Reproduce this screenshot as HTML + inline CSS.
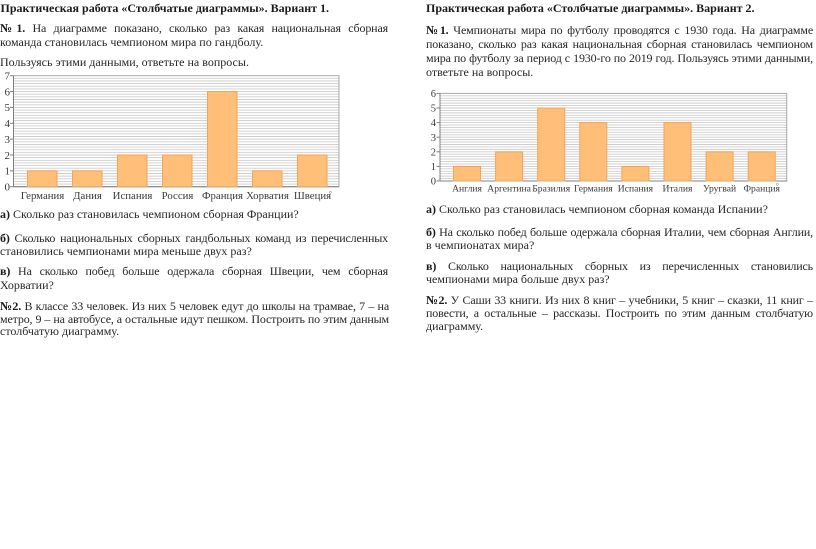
<!DOCTYPE html>
<html><head><meta charset="utf-8"><style>
html,body{margin:0;padding:0;background:#fff;}
body{width:816px;height:549px;overflow:hidden;position:relative;}
svg{position:absolute;left:0;top:0;}
.l{position:absolute;font-family:"Liberation Serif","DejaVu Serif",serif;font-size:12px;line-height:14px;color:#262626;white-space:nowrap;}
.j{text-align:justify;text-align-last:justify;letter-spacing:-0.15px;}
.b{font-weight:bold;color:#1a1a1a;}
.ax{font-family:"Liberation Serif","DejaVu Serif",serif;fill:#3a3a3a;}
</style></head><body>
<svg width="816" height="549" viewBox="0 0 816 549" xmlns="http://www.w3.org/2000/svg">
<g stroke="#cdcdcd" stroke-width="0.9">
<line x1="13.5" x2="339" y1="184.06" y2="184.06"/><line x1="13.5" x2="339" y1="181.41" y2="181.41"/><line x1="13.5" x2="339" y1="178.77" y2="178.77"/><line x1="13.5" x2="339" y1="176.13" y2="176.13"/><line x1="13.5" x2="339" y1="173.49" y2="173.49"/><line x1="13.5" x2="339" y1="170.84" y2="170.84"/>
<line x1="13.5" x2="339" y1="168.20" y2="168.20"/><line x1="13.5" x2="339" y1="165.56" y2="165.56"/><line x1="13.5" x2="339" y1="162.91" y2="162.91"/><line x1="13.5" x2="339" y1="160.27" y2="160.27"/><line x1="13.5" x2="339" y1="157.63" y2="157.63"/><line x1="13.5" x2="339" y1="154.99" y2="154.99"/>
<line x1="13.5" x2="339" y1="152.34" y2="152.34"/><line x1="13.5" x2="339" y1="149.70" y2="149.70"/><line x1="13.5" x2="339" y1="147.06" y2="147.06"/><line x1="13.5" x2="339" y1="144.41" y2="144.41"/><line x1="13.5" x2="339" y1="141.77" y2="141.77"/><line x1="13.5" x2="339" y1="139.13" y2="139.13"/>
<line x1="13.5" x2="339" y1="136.49" y2="136.49"/><line x1="13.5" x2="339" y1="133.84" y2="133.84"/><line x1="13.5" x2="339" y1="131.20" y2="131.20"/><line x1="13.5" x2="339" y1="128.56" y2="128.56"/><line x1="13.5" x2="339" y1="125.91" y2="125.91"/><line x1="13.5" x2="339" y1="123.27" y2="123.27"/>
<line x1="13.5" x2="339" y1="120.63" y2="120.63"/><line x1="13.5" x2="339" y1="117.99" y2="117.99"/><line x1="13.5" x2="339" y1="115.34" y2="115.34"/><line x1="13.5" x2="339" y1="112.70" y2="112.70"/><line x1="13.5" x2="339" y1="110.06" y2="110.06"/><line x1="13.5" x2="339" y1="107.41" y2="107.41"/>
<line x1="13.5" x2="339" y1="104.77" y2="104.77"/><line x1="13.5" x2="339" y1="102.13" y2="102.13"/><line x1="13.5" x2="339" y1="99.49" y2="99.49"/><line x1="13.5" x2="339" y1="96.84" y2="96.84"/><line x1="13.5" x2="339" y1="94.20" y2="94.20"/><line x1="13.5" x2="339" y1="91.56" y2="91.56"/>
<line x1="13.5" x2="339" y1="88.91" y2="88.91"/><line x1="13.5" x2="339" y1="86.27" y2="86.27"/><line x1="13.5" x2="339" y1="83.63" y2="83.63"/><line x1="13.5" x2="339" y1="80.99" y2="80.99"/><line x1="13.5" x2="339" y1="78.34" y2="78.34"/>
</g>
<g stroke="#cdcdcd" stroke-width="0.9">
<line x1="440" x2="786.7" y1="178.57" y2="178.57"/><line x1="440" x2="786.7" y1="176.13" y2="176.13"/><line x1="440" x2="786.7" y1="173.70" y2="173.70"/><line x1="440" x2="786.7" y1="171.27" y2="171.27"/><line x1="440" x2="786.7" y1="168.83" y2="168.83"/><line x1="440" x2="786.7" y1="166.40" y2="166.40"/>
<line x1="440" x2="786.7" y1="163.97" y2="163.97"/><line x1="440" x2="786.7" y1="161.53" y2="161.53"/><line x1="440" x2="786.7" y1="159.10" y2="159.10"/><line x1="440" x2="786.7" y1="156.67" y2="156.67"/><line x1="440" x2="786.7" y1="154.23" y2="154.23"/><line x1="440" x2="786.7" y1="151.80" y2="151.80"/>
<line x1="440" x2="786.7" y1="149.37" y2="149.37"/><line x1="440" x2="786.7" y1="146.93" y2="146.93"/><line x1="440" x2="786.7" y1="144.50" y2="144.50"/><line x1="440" x2="786.7" y1="142.07" y2="142.07"/><line x1="440" x2="786.7" y1="139.63" y2="139.63"/><line x1="440" x2="786.7" y1="137.20" y2="137.20"/>
<line x1="440" x2="786.7" y1="134.77" y2="134.77"/><line x1="440" x2="786.7" y1="132.33" y2="132.33"/><line x1="440" x2="786.7" y1="129.90" y2="129.90"/><line x1="440" x2="786.7" y1="127.47" y2="127.47"/><line x1="440" x2="786.7" y1="125.03" y2="125.03"/><line x1="440" x2="786.7" y1="122.60" y2="122.60"/>
<line x1="440" x2="786.7" y1="120.17" y2="120.17"/><line x1="440" x2="786.7" y1="117.73" y2="117.73"/><line x1="440" x2="786.7" y1="115.30" y2="115.30"/><line x1="440" x2="786.7" y1="112.87" y2="112.87"/><line x1="440" x2="786.7" y1="110.43" y2="110.43"/><line x1="440" x2="786.7" y1="108.00" y2="108.00"/>
<line x1="440" x2="786.7" y1="105.57" y2="105.57"/><line x1="440" x2="786.7" y1="103.13" y2="103.13"/><line x1="440" x2="786.7" y1="100.70" y2="100.70"/><line x1="440" x2="786.7" y1="98.27" y2="98.27"/><line x1="440" x2="786.7" y1="95.83" y2="95.83"/>
</g>

<rect x="13.5" y="75.7" width="325.5" height="111" fill="none" stroke="#a8a8a8" stroke-width="1"/>
<line x1="13.5" y1="75.7" x2="13.5" y2="186.7" stroke="#808080" stroke-width="1"/>
<line x1="13.5" y1="186.7" x2="339" y2="186.7" stroke="#808080" stroke-width="1"/>
<g stroke="#808080" stroke-width="1">
<line x1="10" x2="13.5" y1="75.7" y2="75.7"/><line x1="10" x2="13.5" y1="91.56" y2="91.56"/><line x1="10" x2="13.5" y1="107.41" y2="107.41"/><line x1="10" x2="13.5" y1="123.27" y2="123.27"/><line x1="10" x2="13.5" y1="139.13" y2="139.13"/><line x1="10" x2="13.5" y1="154.99" y2="154.99"/><line x1="10" x2="13.5" y1="170.84" y2="170.84"/><line x1="10" x2="13.5" y1="186.7" y2="186.7"/>
</g>
<g class="ax" font-size="11" text-anchor="end">
<text x="10" y="79.5">7</text><text x="10" y="95.4">6</text><text x="10" y="111.2">5</text><text x="10" y="127.1">4</text><text x="10" y="143">3</text><text x="10" y="158.8">2</text><text x="10" y="174.7">1</text><text x="10" y="190.5">0</text>
</g>
<g fill="#ffbf78" stroke="#f2a458" stroke-width="1">
<rect x="27.5" y="170.84" width="29.5" height="15.86"/>
<rect x="72.5" y="170.84" width="29.5" height="15.86"/>
<rect x="117.5" y="154.99" width="29.5" height="31.71"/>
<rect x="162.5" y="154.99" width="29.5" height="31.71"/>
<rect x="207.5" y="91.56" width="29.5" height="95.14"/>
<rect x="252.5" y="170.84" width="29.5" height="15.86"/>
<rect x="297.5" y="154.99" width="29.5" height="31.71"/>
</g>
<g class="ax" font-size="10.8" text-anchor="middle" fill="#333">
<text x="42.5" y="199">Германия</text><text x="87.5" y="199">Дания</text><text x="132.5" y="199">Испания</text><text x="177.5" y="199">Россия</text><text x="222.5" y="199">Франция</text><text x="267.5" y="199">Хорватия</text><text x="312.5" y="199">Швеция</text>
</g>
<text class="ax" x="329" y="196" font-size="7" fill="#bbb">°</text>

<rect x="440" y="93.4" width="346.7" height="87.6" fill="none" stroke="#a8a8a8" stroke-width="1"/>
<line x1="440" y1="93.4" x2="440" y2="181" stroke="#808080" stroke-width="1"/>
<line x1="440" y1="181" x2="786.7" y2="181" stroke="#808080" stroke-width="1"/>
<g stroke="#808080" stroke-width="1">
<line x1="436.5" x2="440" y1="93.4" y2="93.4"/><line x1="436.5" x2="440" y1="108" y2="108"/><line x1="436.5" x2="440" y1="122.6" y2="122.6"/><line x1="436.5" x2="440" y1="137.2" y2="137.2"/><line x1="436.5" x2="440" y1="151.8" y2="151.8"/><line x1="436.5" x2="440" y1="166.4" y2="166.4"/><line x1="436.5" x2="440" y1="181" y2="181"/>
</g>
<g class="ax" font-size="10.5" text-anchor="end">
<text x="436" y="97">6</text><text x="436" y="111.6">5</text><text x="436" y="126.2">4</text><text x="436" y="140.8">3</text><text x="436" y="155.4">2</text><text x="436" y="170">1</text><text x="436" y="184.6">0</text>
</g>
<g fill="#ffbf78" stroke="#f2a458" stroke-width="1">
<rect x="453.5" y="166.4" width="27" height="14.6"/>
<rect x="495.6" y="151.8" width="27" height="29.2"/>
<rect x="537.7" y="108" width="27" height="73"/>
<rect x="579.8" y="122.6" width="27" height="58.4"/>
<rect x="621.9" y="166.4" width="27" height="14.6"/>
<rect x="664" y="122.6" width="27" height="58.4"/>
<rect x="706.1" y="151.8" width="27" height="29.2"/>
<rect x="748.2" y="151.8" width="27" height="29.2"/>
</g>
<g class="ax" font-size="9.6" text-anchor="middle" fill="#333">
<text x="467" y="191.5">Англия</text><text x="509.1" y="191.5">Аргентина</text><text x="551.2" y="191.5">Бразилия</text><text x="593.3" y="191.5">Германия</text><text x="635.4" y="191.5">Испания</text><text x="677.5" y="191.5">Италия</text><text x="719.6" y="191.5">Уругвай</text><text x="761.7" y="191.5">Франция</text>
</g>
<text class="ax" x="776" y="188" font-size="7" fill="#bbb">°</text>
</svg>

<!-- LEFT TEXT -->
<div class="l b" style="left:0.5px;top:1.4px;">Практическая работа «Столбчатые диаграммы». Вариант 1.</div>
<div class="l j" style="left:0;top:21.4px;width:388px;"><span class="b">№1.</span> На диаграмме показано, сколько раз какая национальная сборная</div>
<div class="l" style="left:0;top:35.4px;">команда становилась чемпионом мира по гандболу.</div>
<div class="l" style="left:0;top:55.4px;">Пользуясь этими данными, ответьте на вопросы.</div>
<div class="l" style="left:0;top:207.4px;"><span class="b">а)</span> Сколько раз становилась чемпионом сборная Франции?</div>
<div class="l j" style="left:0;top:231.4px;width:388px;"><span class="b">б)</span> Сколько национальных сборных гандбольных команд из перечисленных</div>
<div class="l" style="left:0;top:244.4px;">становились чемпионами мира меньше двух раз?</div>
<div class="l j" style="left:0;top:264.4px;width:388px;"><span class="b">в)</span> На сколько побед больше одержала сборная Швеции, чем сборная</div>
<div class="l" style="left:0;top:278.4px;">Хорватии?</div>
<div class="l j" style="left:0;top:299.4px;width:389px;"><span class="b">№2.</span> В классе 33 человек. Из них 5 человек едут до школы на трамвае, 7 – на</div>
<div class="l j" style="left:0;top:311.9px;width:389px;">метро, 9 – на автобусе, а остальные идут пешком. Построить по этим данным</div>
<div class="l" style="left:0;top:324.4px;">столбчатую диаграмму.</div>

<!-- RIGHT TEXT -->
<div class="l b" style="left:426px;top:1.4px;">Практическая работа «Столбчатые диаграммы». Вариант 2.</div>
<div class="l j" style="left:426px;top:23.4px;width:387px;"><span class="b">№1.</span> Чемпионаты мира по футболу проводятся с 1930 года. На диаграмме</div>
<div class="l j" style="left:426px;top:37.4px;width:387px;">показано, сколько раз какая национальная сборная становилась чемпионом</div>
<div class="l j" style="left:426px;top:51.4px;width:387px;">мира по футболу за период с 1930-го по 2019 год. Пользуясь этими данными,</div>
<div class="l" style="left:426px;top:65.4px;">ответьте на вопросы.</div>
<div class="l" style="left:426px;top:202.4px;"><span class="b">а)</span> Сколько раз становилась чемпионом сборная команда Испании?</div>
<div class="l j" style="left:426px;top:225.4px;width:387px;"><span class="b">б)</span> На сколько побед больше одержала сборная Италии, чем сборная Англии,</div>
<div class="l" style="left:426px;top:238.4px;">в чемпионатах мира?</div>
<div class="l j" style="left:426px;top:259.4px;width:387px;"><span class="b">в)</span> Сколько национальных сборных из перечисленных становились</div>
<div class="l" style="left:426px;top:272.4px;">чемпионами мира больше двух раз?</div>
<div class="l j" style="left:426px;top:293.4px;width:387px;"><span class="b">№2.</span> У Саши 33 книги. Из них 8 книг – учебники, 5 книг – сказки, 11 книг –</div>
<div class="l j" style="left:426px;top:306.4px;width:387px;">повести, а остальные – рассказы. Построить по этим данным столбчатую</div>
<div class="l" style="left:426px;top:319.4px;">диаграмму.</div>
</body></html>
